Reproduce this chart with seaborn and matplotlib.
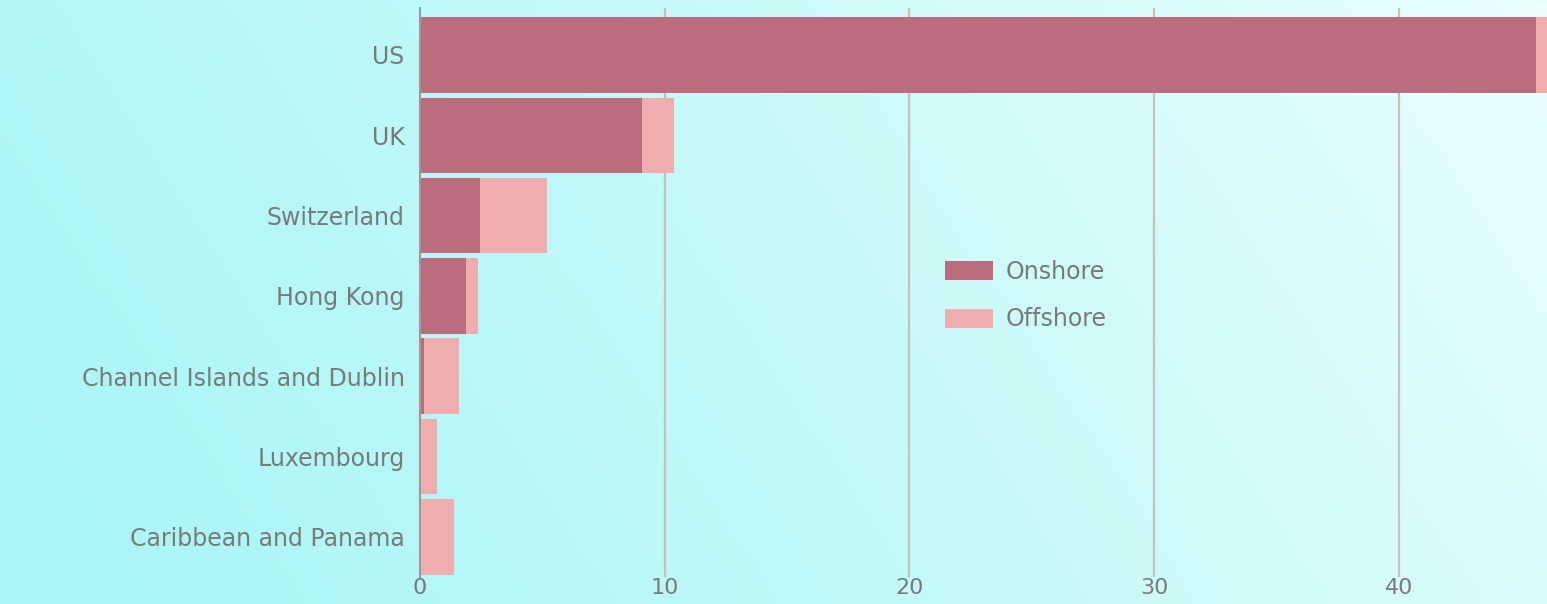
import numpy as np
import pandas as pd
import matplotlib
matplotlib.use("Agg")
import matplotlib.pyplot as plt
import seaborn as sns
from matplotlib.patches import Patch

categories = ["US", "UK", "Switzerland", "Hong Kong",
              "Channel Islands and Dublin", "Luxembourg", "Caribbean and Panama"]
onshore = [45.6, 9.07, 2.45, 1.88, 0.18, 0.0, 0.0]
offshore = [0.6, 1.31, 2.74, 0.49, 1.43, 0.68, 1.39]
xticks = [0, 10, 20, 30, 40]

c_on = "#bb6d7d"
c_off = "#efadad"
txt = "#7a7a7a"
grid_c = "#c9c0b6"

sns.set_theme(style="white")
plt.rcParams['font.family'] = ['DejaVu Sans']

df = pd.DataFrame({"cat": categories, "on": onshore, "off": offshore})
df["total"] = df["on"] + df["off"]

fig = plt.figure(figsize=(15.47, 6.04), dpi=100)

# background gradient
bg = fig.add_axes([0, 0, 1, 1], zorder=-10)
nx, ny = 200, 80
xx, yy = np.meshgrid(np.linspace(0, 1, nx), np.linspace(0, 1, ny))
t = np.clip(0.8 * xx + 0.2 * (1 - yy), 0, 1) ** 1.2
c0 = np.array([0xa8, 0xf6, 0xf5]) / 255.0
c1 = np.array([0xea, 0xfe, 0xfe]) / 255.0
img = c0[None, None, :] * (1 - t[..., None]) + c1[None, None, :] * t[..., None]
bg.imshow(img, aspect="auto", extent=[0, 1, 0, 1], origin="upper")
bg.axis("off")

ax = fig.add_axes([420 / 1547, 1 - 577 / 604, 1 - 420 / 1547, (577 - 8) / 604])
ax.patch.set_alpha(0)

sns.barplot(data=df, x="total", y="cat", color=c_off, orient="h",
            width=0.94, ax=ax, saturation=1, zorder=3, linewidth=0)
sns.barplot(data=df, x="on", y="cat", color=c_on, orient="h",
            width=0.94, ax=ax, saturation=1, zorder=4, linewidth=0)

ax.set_xlim(0, 46.05)
ax.set_ylim(6.5, -0.585)
ax.set_xticks(xticks)
ax.set_xlabel("")
ax.set_ylabel("")
for s in ["top", "right", "bottom"]:
    ax.spines[s].set_visible(False)
ax.spines["left"].set_color("#9a9a9a")
ax.spines["left"].set_linewidth(1.5)
ax.spines["left"].set_zorder(6)
for xv in xticks[1:]:
    ax.axvline(xv, color=grid_c, lw=1.6, zorder=1)
ax.tick_params(axis="y", length=0, colors=txt, labelsize=17, pad=11)
ax.tick_params(axis="x", length=0, colors=txt, labelsize=16, pad=1)

handles = [Patch(facecolor=c_on, label="Onshore", linewidth=0),
           Patch(facecolor=c_off, label="Offshore", linewidth=0)]
leg = ax.legend(handles=handles, loc="upper left", bbox_to_anchor=(0.447, 0.595),
                frameon=False, prop={"size": 17}, handlelength=2.05, handleheight=0.85,
                labelspacing=1.0, handletextpad=0.5)
for tx in leg.get_texts():
    tx.set_color(txt)

fig.savefig("out.png", dpi=100)
